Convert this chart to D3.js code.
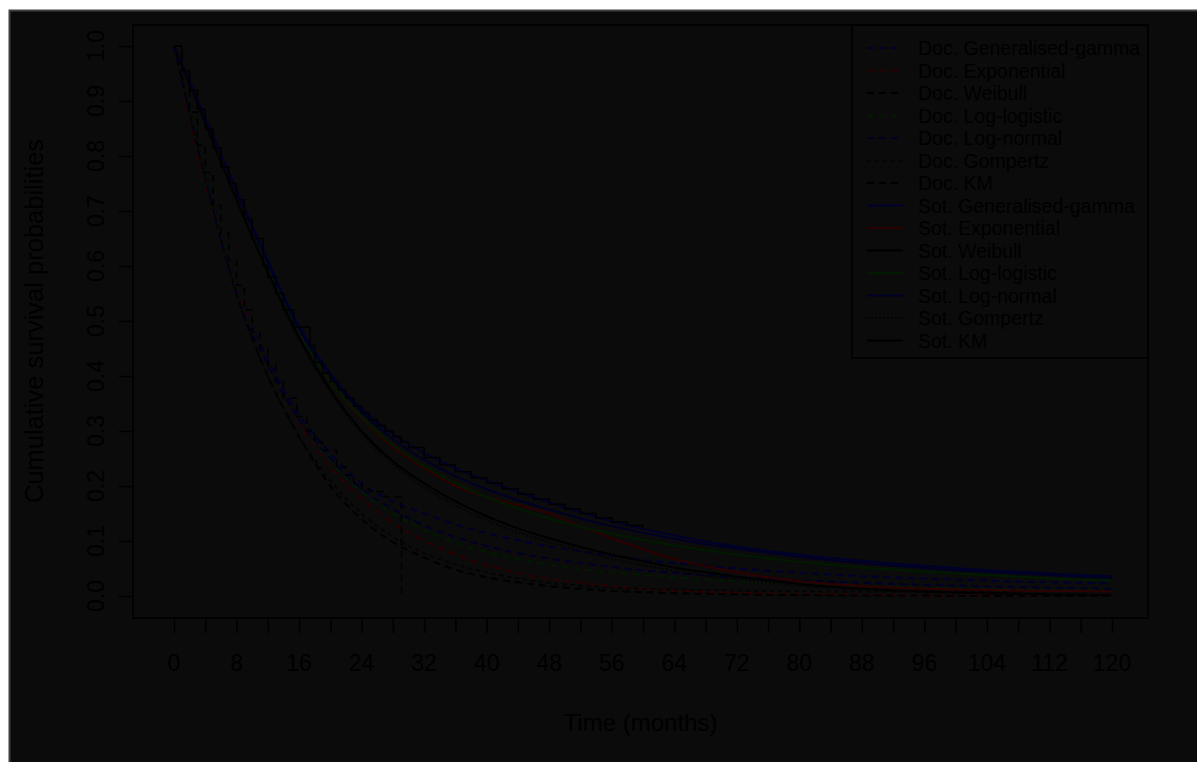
<!DOCTYPE html>
<html>
<head>
<meta charset="utf-8">
<script src="https://cdn.jsdelivr.net/npm/d3@7"></script>
<style>
  html, body { margin: 0; padding: 0; background: #ffffff; }
  svg { display: block; }
  text { font-family: "Liberation Sans", Arial, Helvetica, sans-serif; fill: #000000; }
</style>
</head>
<body>
<svg id="chart" width="1197" height="762"></svg>
<script>
// ---------------- data ----------------
const times = [0,4,8,12,16,20,24,28,32,36,40,44,48,52,56,60,64,68,72,76,80,84,88,92,96,100,104,108,112,116,120];

const docGG  = [1.00,0.77,0.56,0.43,0.33,0.26,0.205,0.172,0.150,0.130,0.114,0.101,0.090,0.081,0.073,0.066,0.060,0.055,0.050,0.046,0.042,0.039,0.036,0.034,0.032,0.030,0.028,0.026,0.025,0.024,0.023];
const docExp = [1.00,0.75,0.56,0.42,0.315,0.235,0.177,0.133,0.100,0.075,0.056,0.042,0.031,0.024,0.018,0.013,0.010,0.007,0.006,0.004,0.003,0.003,0.002,0.002,0.001,0.001,0.001,0.001,0.001,0.001,0.001];
const docWei = [1.00,0.77,0.55,0.40,0.29,0.20,0.14,0.098,0.070,0.048,0.034,0.025,0.018,0.013,0.009,0.007,0.005,0.004,0.003,0.002,0.002,0.001,0.001,0.001,0.001,0.000,0.000,0.000,0.000,0.000,0.000];
const docLL  = [1.00,0.77,0.555,0.42,0.32,0.245,0.19,0.150,0.120,0.097,0.080,0.067,0.057,0.049,0.043,0.038,0.034,0.030,0.027,0.024,0.022,0.020,0.018,0.017,0.015,0.014,0.013,0.012,0.011,0.011,0.010];
const docLN  = [1.00,0.76,0.55,0.42,0.32,0.25,0.195,0.158,0.128,0.107,0.091,0.078,0.068,0.060,0.053,0.047,0.042,0.038,0.034,0.031,0.028,0.026,0.024,0.022,0.020,0.019,0.017,0.016,0.015,0.014,0.013];
const docGom = [1.00,0.76,0.55,0.40,0.29,0.21,0.15,0.108,0.078,0.058,0.043,0.032,0.024,0.019,0.015,0.013,0.012,0.011,0.010,0.009,0.009,0.008,0.008,0.008,0.008,0.008,0.008,0.008,0.008,0.008,0.008];
const docKMt = [0,1,2,3,4,5,6,7,8,9,10,11,12,13,14,15.7,17,18,19,20.8,22,23,24,25,27,29.1,29.1];
const docKMs = [1.00,0.94,0.88,0.82,0.77,0.71,0.66,0.61,0.565,0.52,0.48,0.45,0.42,0.39,0.36,0.326,0.30,0.28,0.265,0.235,0.22,0.205,0.195,0.19,0.18,0.18,0.0];

const sotGG  = [1.00,0.87,0.74,0.61,0.49,0.405,0.34,0.295,0.260,0.232,0.210,0.189,0.170,0.152,0.136,0.122,0.110,0.099,0.090,0.082,0.075,0.069,0.064,0.059,0.055,0.051,0.047,0.044,0.041,0.038,0.036];
const sotExp = [1.00,0.87,0.735,0.60,0.48,0.39,0.322,0.270,0.232,0.200,0.180,0.165,0.150,0.127,0.105,0.085,0.067,0.054,0.043,0.034,0.027,0.022,0.018,0.015,0.013,0.012,0.011,0.010,0.009,0.009,0.008];
const sotWei = [1.00,0.86,0.72,0.59,0.47,0.375,0.30,0.245,0.205,0.172,0.145,0.123,0.105,0.089,0.075,0.063,0.052,0.043,0.035,0.028,0.022,0.017,0.013,0.010,0.008,0.006,0.005,0.004,0.003,0.002,0.002];
const sotLL  = [1.00,0.87,0.735,0.60,0.48,0.39,0.325,0.275,0.236,0.205,0.180,0.159,0.141,0.126,0.113,0.102,0.092,0.083,0.075,0.068,0.062,0.057,0.052,0.048,0.044,0.041,0.038,0.035,0.032,0.030,0.028];
const sotLN  = [1.00,0.87,0.735,0.605,0.485,0.40,0.335,0.285,0.248,0.218,0.194,0.174,0.157,0.141,0.127,0.115,0.104,0.094,0.086,0.078,0.071,0.065,0.060,0.055,0.051,0.047,0.044,0.041,0.038,0.035,0.033];
const sotGom = [1.00,0.86,0.72,0.585,0.465,0.37,0.295,0.240,0.198,0.165,0.138,0.116,0.098,0.082,0.068,0.056,0.046,0.037,0.030,0.024,0.019,0.015,0.012,0.009,0.007,0.006,0.005,0.004,0.003,0.003,0.002];
const sotKMt = [0,1,2,3,4,5,6,7,8,9,10,11.4,12,13,14,15.3,17.4,18,19,20,21,22,23,24,25,26,27,28,29,30,32,34,36,38,40,42,44,46,48,50,52,54,56,58,60];
const sotKMs = [1.00,0.955,0.92,0.885,0.85,0.815,0.78,0.75,0.72,0.685,0.65,0.60,0.58,0.55,0.52,0.489,0.456,0.425,0.405,0.39,0.375,0.36,0.345,0.333,0.32,0.31,0.30,0.29,0.28,0.27,0.252,0.238,0.226,0.215,0.205,0.195,0.185,0.176,0.167,0.158,0.150,0.142,0.135,0.128,0.121];

const legendLabels = ["Doc. Generalised-gamma","Doc. Exponential","Doc. Weibull","Doc. Log-logistic","Doc. Log-normal","Doc. Gompertz","Doc. KM",
                      "Sot. Generalised-gamma","Sot. Exponential","Sot. Weibull","Sot. Log-logistic","Sot. Log-normal","Sot. Gompertz","Sot. KM"];
const xTickValues = d3.range(0, 121, 4);
const xLabelValues = d3.range(0, 121, 8);
const yTickValues = [0,0.1,0.2,0.3,0.4,0.5,0.6,0.7,0.8,0.9,1.0];

// ---------------- styling ----------------
const colBlue = "#00002c", colRed = "#2c0000", colBlack = "#000000", colGreen = "#001a00", colNavy = "#000026", colGray = "#040404";
const series = [
  {name: legendLabels[0],  t: times,  s: docGG,  color: colBlue,  dash: "7,5", step: false},
  {name: legendLabels[1],  t: times,  s: docExp, color: colRed,   dash: "7,5", step: false},
  {name: legendLabels[2],  t: times,  s: docWei, color: colBlack, dash: "7,5", step: false},
  {name: legendLabels[3],  t: times,  s: docLL,  color: colGreen, dash: "7,5", step: false},
  {name: legendLabels[4],  t: times,  s: docLN,  color: colNavy,  dash: "7,5", step: false},
  {name: legendLabels[5],  t: times,  s: docGom, color: colGray,  dash: "4,4", step: false},
  {name: legendLabels[6],  t: docKMt, s: docKMs, color: colBlack, dash: "7,5", step: true},
  {name: legendLabels[7],  t: times,  s: sotGG,  color: colBlue,  dash: null,  step: false},
  {name: legendLabels[8],  t: times,  s: sotExp, color: colRed,   dash: null,  step: false},
  {name: legendLabels[9],  t: times,  s: sotWei, color: colBlack, dash: null,  step: false},
  {name: legendLabels[10], t: times,  s: sotLL,  color: colGreen, dash: null,  step: false},
  {name: legendLabels[11], t: times,  s: sotLN,  color: colNavy,  dash: null,  step: false},
  {name: legendLabels[12], t: times,  s: sotGom, color: colGray,  dash: "2,2", step: false},
  {name: legendLabels[13], t: sotKMt, s: sotKMs, color: colBlack, dash: null,  step: true}
];

// ---------------- drawing ----------------
const svg = d3.select("#chart");
svg.append("rect").attr("x", 9.5).attr("y", 10.5).attr("width", 1190).attr("height", 755)
   .attr("fill", "#0b0b0b").attr("stroke", "#404040").attr("stroke-width", 2);

const x = d3.scaleLinear().domain([0, 120]).range([174, 1112]);
const y = d3.scaleLinear().domain([0, 1]).range([596, 46]);

const plotL = 133, plotR = 1148, plotT = 25, plotB = 618;

// axes
const yAxis = d3.axisLeft(y).tickValues(yTickValues).tickSize(14).tickFormat("");
const gy = svg.append("g").attr("transform", `translate(${plotL},0)`).call(yAxis);
gy.select(".domain").remove();
gy.selectAll("line").attr("stroke", "#000").attr("stroke-width", 1.5);

const xAxis = d3.axisBottom(x).tickValues(xTickValues).tickSize(15).tickFormat("");
const gx = svg.append("g").attr("transform", `translate(0,${plotB})`).call(xAxis);
gx.select(".domain").remove();
gx.selectAll("line").attr("stroke", "#000").attr("stroke-width", 1.5);

svg.append("g").selectAll("text").data(xLabelValues).join("text")
   .attr("x", d => x(d)).attr("y", 671).attr("text-anchor", "middle")
   .attr("font-size", 23).text(d => d);

svg.append("g").selectAll("text").data(yTickValues).join("text")
   .attr("transform", d => `translate(104,${y(d)}) rotate(-90)`)
   .attr("text-anchor", "middle").attr("font-size", 23).text(d => d3.format(".1f")(d));

svg.append("text").attr("x", (plotL + plotR) / 2).attr("y", 731).attr("text-anchor", "middle")
   .attr("font-size", 24).text("Time (months)");
svg.append("text").attr("transform", `translate(43,${(y(0) + y(1)) / 2}) rotate(-90)`)
   .attr("text-anchor", "middle").attr("font-size", 25.5).text("Cumulative survival probabilities");

// curves
const smoothLine = d3.line().x(d => x(d[0])).y(d => y(d[1])).curve(d3.curveMonotoneX);
const stepLine = d3.line().x(d => x(d[0])).y(d => y(d[1])).curve(d3.curveStepAfter);
const gc = svg.append("g");
series.forEach(s => {
  const pts = s.t.map((t, i) => [t, s.s[i]]);
  gc.append("path").attr("d", (s.step ? stepLine : smoothLine)(pts))
    .attr("fill", "none").attr("stroke", s.color).attr("stroke-width", s.step ? 1.5 : 2)
    .attr("stroke-dasharray", s.dash);
});

// plot box
svg.append("rect").attr("x", plotL).attr("y", plotT).attr("width", plotR - plotL).attr("height", plotB - plotT)
   .attr("fill", "none").attr("stroke", "#000").attr("stroke-width", 1.5);

// legend
const lg = svg.append("g");
lg.append("rect").attr("x", 852).attr("y", plotT).attr("width", plotR - 852).attr("height", 333)
  .attr("fill", "none").attr("stroke", "#000").attr("stroke-width", 1.5);
series.forEach((s, i) => {
  const yy = 48 + i * 22.5;
  lg.append("line").attr("x1", 867).attr("x2", 903).attr("y1", yy).attr("y2", yy)
    .attr("stroke", s.color).attr("stroke-width", 2).attr("stroke-dasharray", s.dash);
  lg.append("text").attr("x", 918).attr("y", yy + 7).attr("font-size", 19.5).text(s.name);
});
</script>
</body>
</html>
